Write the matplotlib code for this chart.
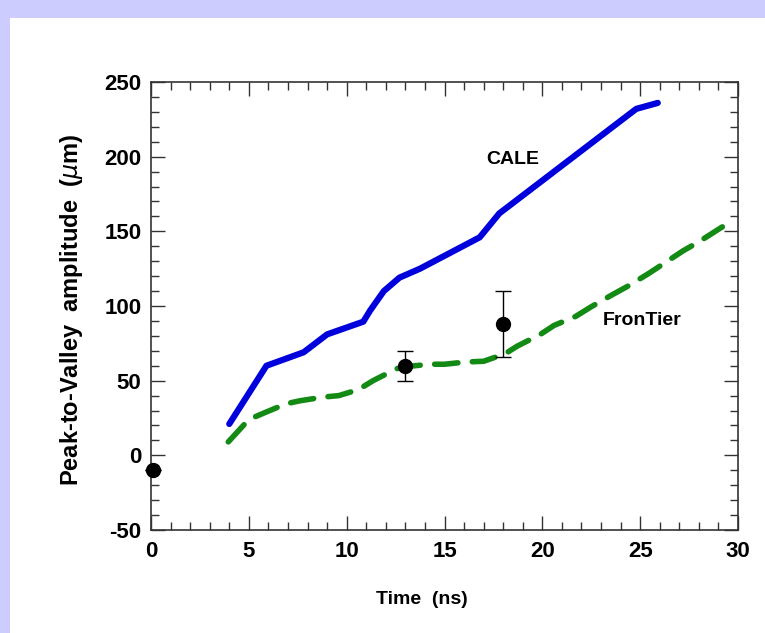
import matplotlib
matplotlib.use('Agg')
import matplotlib.pyplot as plt
from matplotlib.ticker import MultipleLocator
from matplotlib.patches import Rectangle

plt.rcParams['axes.unicode_minus'] = False

# CALE simulation (blue solid)
cale_t = [4.0, 5.9, 7.8, 8.3, 9.0, 10.85, 11.2, 11.9, 12.7, 13.75, 16.8, 17.8, 24.8, 25.9]
cale_amp = [21, 60, 69, 74, 81, 89.5, 97, 110, 119, 125, 146, 162, 232, 236]

# FronTier simulation (green dashed)
front_t = [3.95, 5.0, 5.8, 6.9, 7.6, 8.8, 9.6, 10.6, 11.35, 12.55, 13.1, 14.25, 15.0,
           16.1, 17.0, 18.1, 18.7, 19.9, 20.6, 21.7, 22.5, 23.5, 24.4, 25.4, 26.1,
           27.2, 28.0, 29.2]
front_amp = [9, 24, 28.5, 34.5, 36.5, 39, 40, 44, 50, 58, 59.5, 61, 61, 62.5, 63,
             68, 73, 81, 87, 93, 99.5, 107, 113.5, 121.5, 127.5, 137, 143, 153]

# experimental points
exp_t = [0.1, 13.0, 18.0]
exp_amp = [-10, 60, 88]
exp_err = [0, 10, 22]

fig = plt.figure(figsize=(7.65, 6.33), dpi=100)
fig.patch.set_facecolor('white')
# lavender frame at top and left
fig.patches.append(Rectangle((0, 0), 10 / 765, 1, transform=fig.transFigure,
                             facecolor='#ccccff', edgecolor='none', zorder=0))
fig.patches.append(Rectangle((0, 1 - 18 / 633), 1, 18 / 633, transform=fig.transFigure,
                             facecolor='#ccccff', edgecolor='none', zorder=0))

ax = fig.add_axes([151 / 765, 103 / 633, 587 / 765, 448 / 633])

ax.plot(cale_t, cale_amp, color='#0000dd', lw=4.5, solid_capstyle='round',
        solid_joinstyle='round')
ax.plot(front_t, front_amp, color='#138a13', lw=4.0, dashes=(4.2, 2.6),
        dash_capstyle='round')
ax.errorbar(exp_t, exp_amp, yerr=exp_err, fmt='o', color='black', ms=10,
            elinewidth=1, capsize=6, capthick=1, clip_on=False, zorder=5)

ax.text(18.5, 198, 'CALE', fontsize=14, fontweight='bold', ha='center', va='center',
        family='Liberation Sans')
ax.text(25.1, 90, 'FronTier', fontsize=14, fontweight='bold', ha='center', va='center',
        family='Liberation Sans')

ax.set_xlim(0, 30)
ax.set_ylim(-50, 250)
ax.xaxis.set_major_locator(MultipleLocator(5))
ax.xaxis.set_minor_locator(MultipleLocator(1))
ax.yaxis.set_major_locator(MultipleLocator(50))
ax.yaxis.set_minor_locator(MultipleLocator(10))
ax.tick_params(which='both', direction='in', top=True, right=True, width=1, color='#333333')
ax.tick_params(which='major', length=10)
ax.tick_params(which='minor', length=6)
ax.tick_params(axis='x', pad=8)
ax.tick_params(axis='y', pad=7)
for lab in ax.get_xticklabels() + ax.get_yticklabels():
    lab.set_fontsize(16)
    lab.set_fontweight('bold')
    lab.set_family('Liberation Sans')
for sp in ax.spines.values():
    sp.set_linewidth(1.2)
    sp.set_color('#333333')

ax.set_xlabel('Time  (ns)', fontsize=14, fontweight='bold', family='Liberation Sans')
ax.set_ylabel('Peak-to-Valley  amplitude  ($\\mu$m)', fontsize=17, fontweight='bold',
              family='Liberation Sans')
ax.xaxis.set_label_coords(0.462, -0.156)
ax.xaxis.label.set_va('center')
ax.yaxis.set_label_coords(-0.135, 0.491)
ax.yaxis.label.set_va('center')

fig.savefig('out.png', dpi=100)
